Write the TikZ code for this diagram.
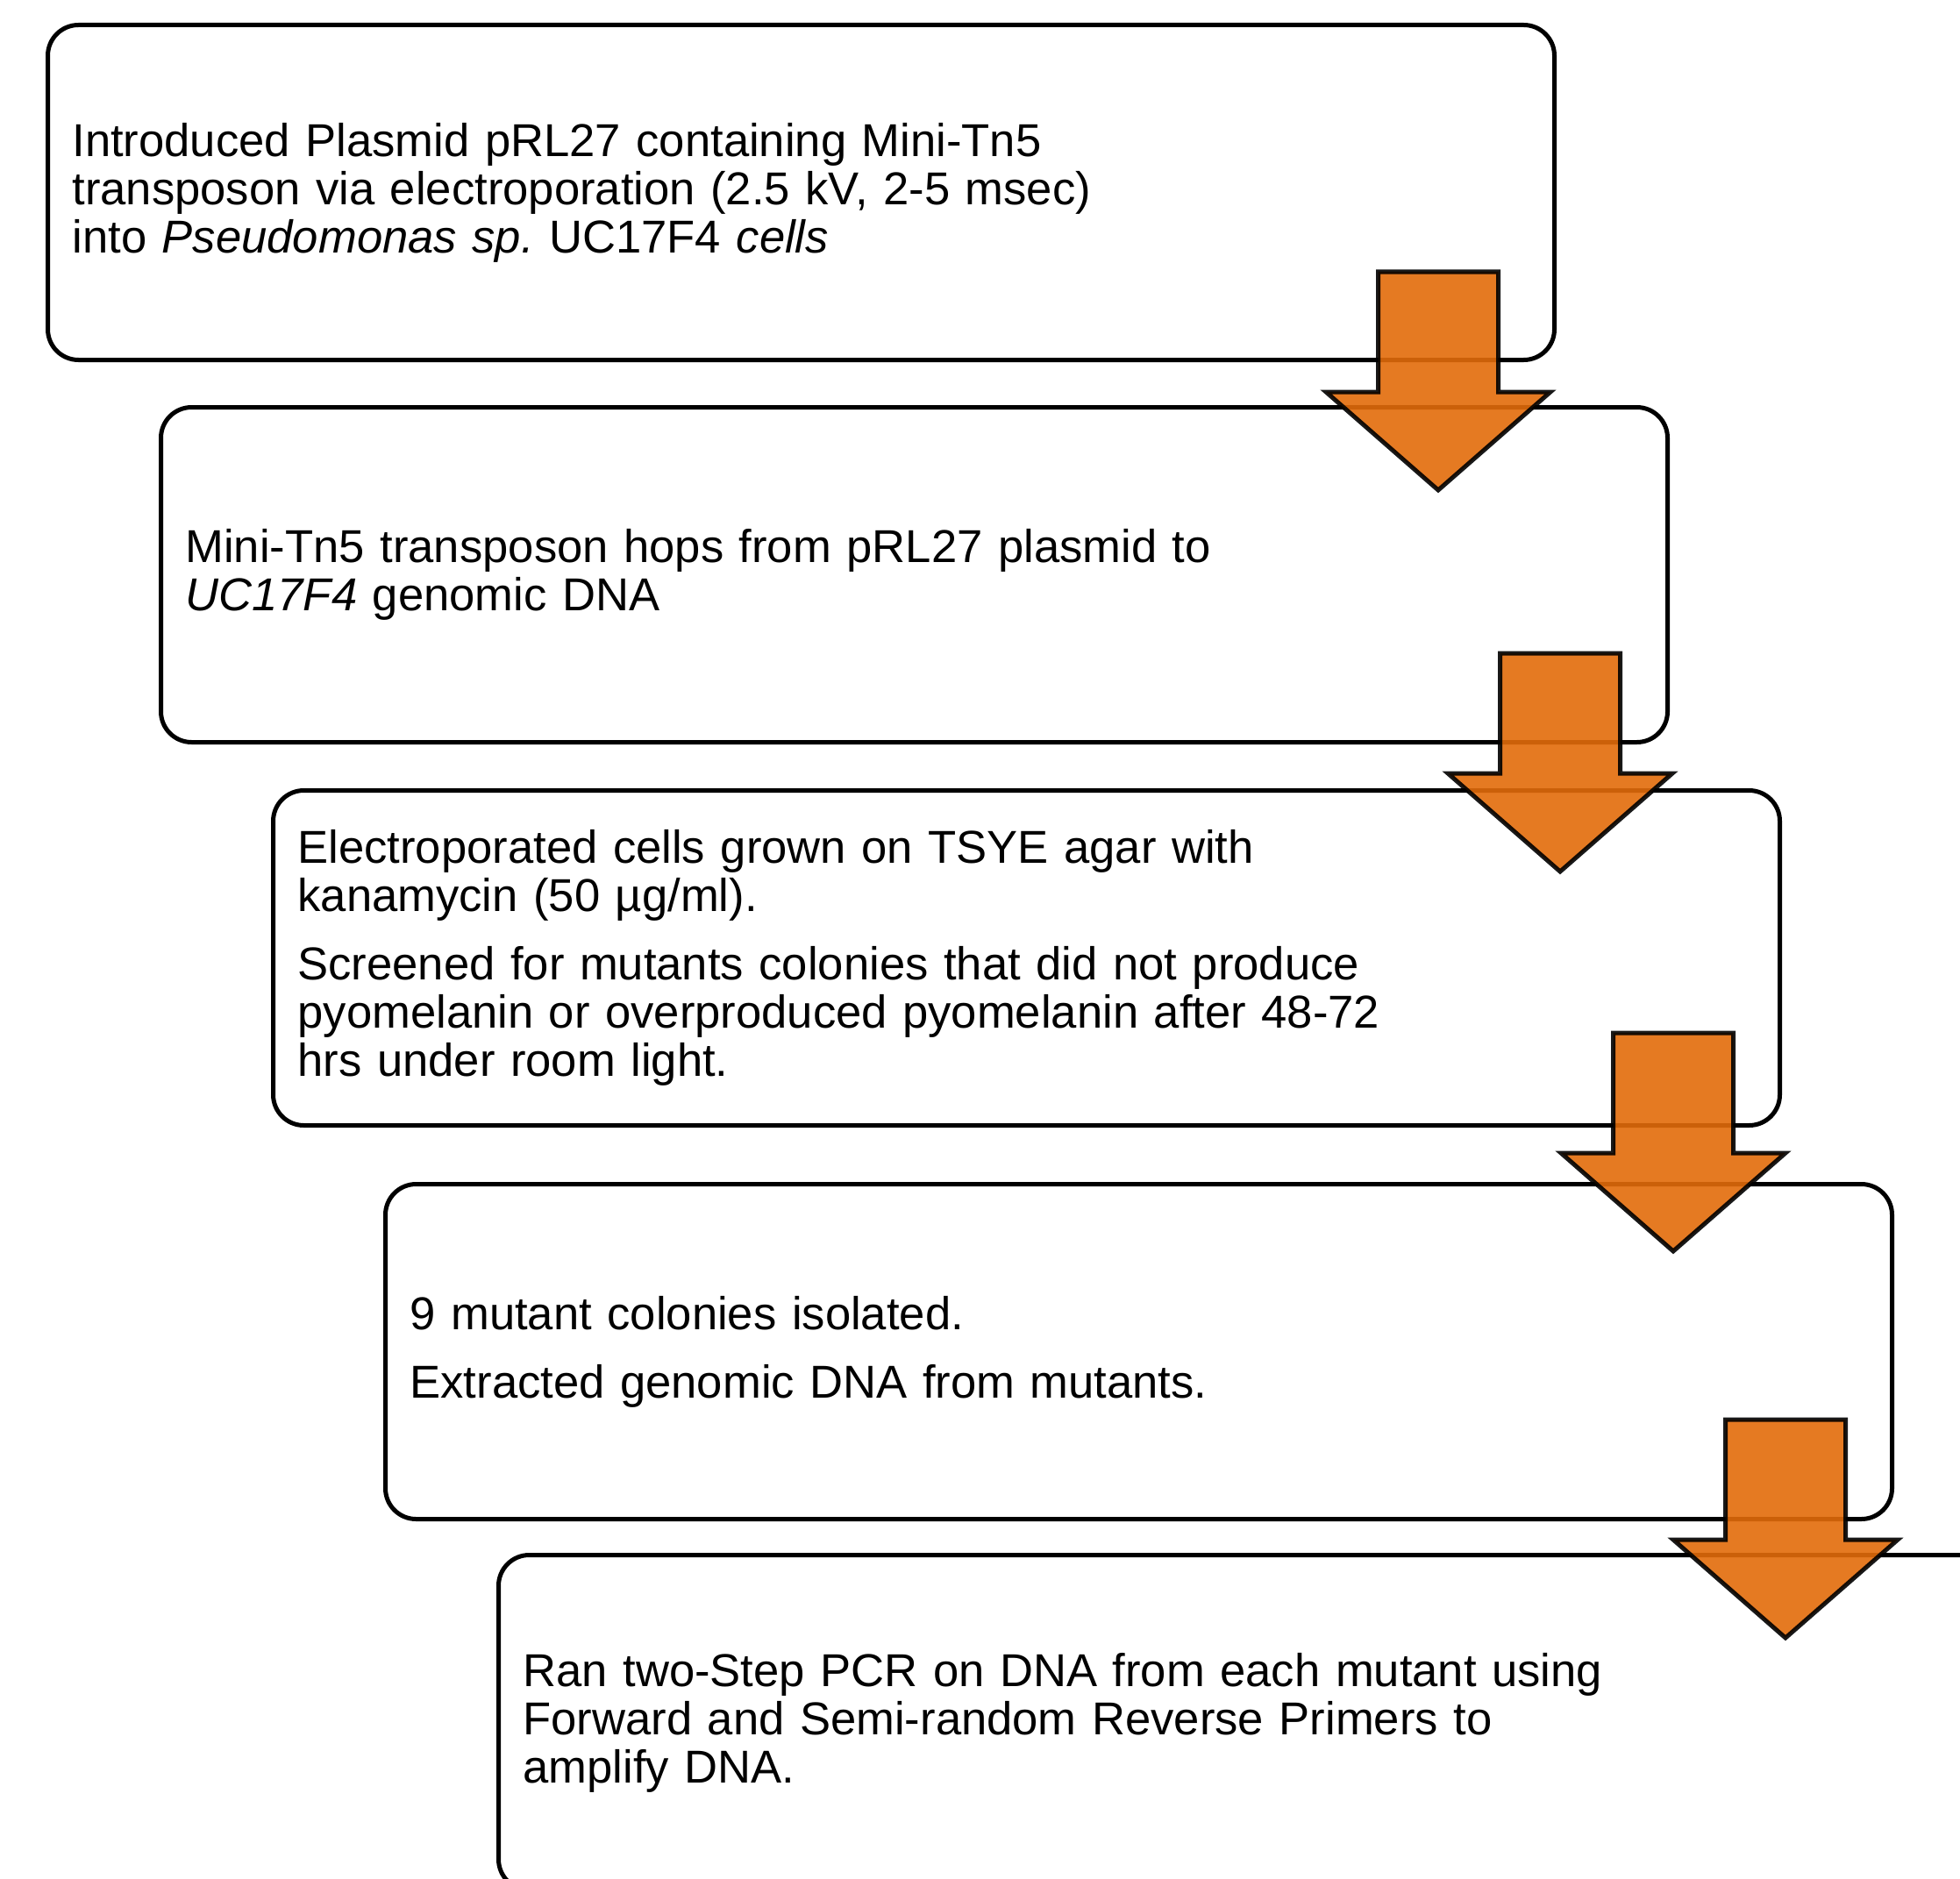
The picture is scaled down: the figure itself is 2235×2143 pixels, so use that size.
\documentclass[tikz,border=0pt]{standalone}
\usepackage{fontspec}
\setmainfont{Liberation Sans}
\usetikzlibrary{calc}

\definecolor{arroworange}{RGB}{226,107,10}

\begin{document}
\begin{tikzpicture}[x=1pt,y=-1pt,
    stepbox/.style={draw, line width=5pt, rounded corners=35pt, anchor=north west,
      minimum width=1718pt, minimum height=382pt, inner xsep=28pt,
      text width=1662pt, align=left, font=\fontsize{52.6}{55}\selectfont},
    bigarrow/.style={draw=black, draw opacity=0.9, line width=5pt, fill=arroworange,
      fill opacity=0.9, line join=miter}]
    \clip (0,0) rectangle (2235,2143);
    \node[stepbox] (b1) at (52,26) {Introduced Plasmid pRL27 containing Mini-Tn5\\
      transposon via electroporation (2.5 kV, 2-5 msec)\\
      into \textit{Pseudomonas sp.}\ UC17F4 \textit{cells}};
    \node[stepbox] (b2) at (181,462) {Mini-Tn5 transposon hops from pRL27 plasmid to\\
      \textit{UC17F4} genomic DNA};
    \node[stepbox] (b3) at (309,899) {Electroporated cells grown on TSYE agar with\\
      kanamycin (50 µg/ml).\\[23pt]
      Screened for mutants colonies that did not produce\\
      pyomelanin or overproduced pyomelanin after 48-72\\
      hrs under room light.};
    \node[stepbox] (b4) at (437,1348) {9 mutant colonies isolated.\\[23pt]
      Extracted genomic DNA from mutants.};
    \node[stepbox] (b5) at (566,1771) {Ran two-Step PCR on DNA from each mutant using\\
      Forward and Semi-random Reverse Primers to\\
      amplify DNA.};
    % block arrows between the steps
    \foreach \a/\dx/\dy in {b1/135/103, b2/125/104, b3/124/108, b4/124/116}
      \draw[bigarrow] ($(\a.south east)+(-\dx,-\dy)$) -- ++(68.5,0) -- ++(0,137)
        -- ++(59.5,0) -- ++(-128,112) -- ++(-128,-112) -- ++(59.5,0) -- ++(0,-137) -- cycle;
\end{tikzpicture}
\end{document}
